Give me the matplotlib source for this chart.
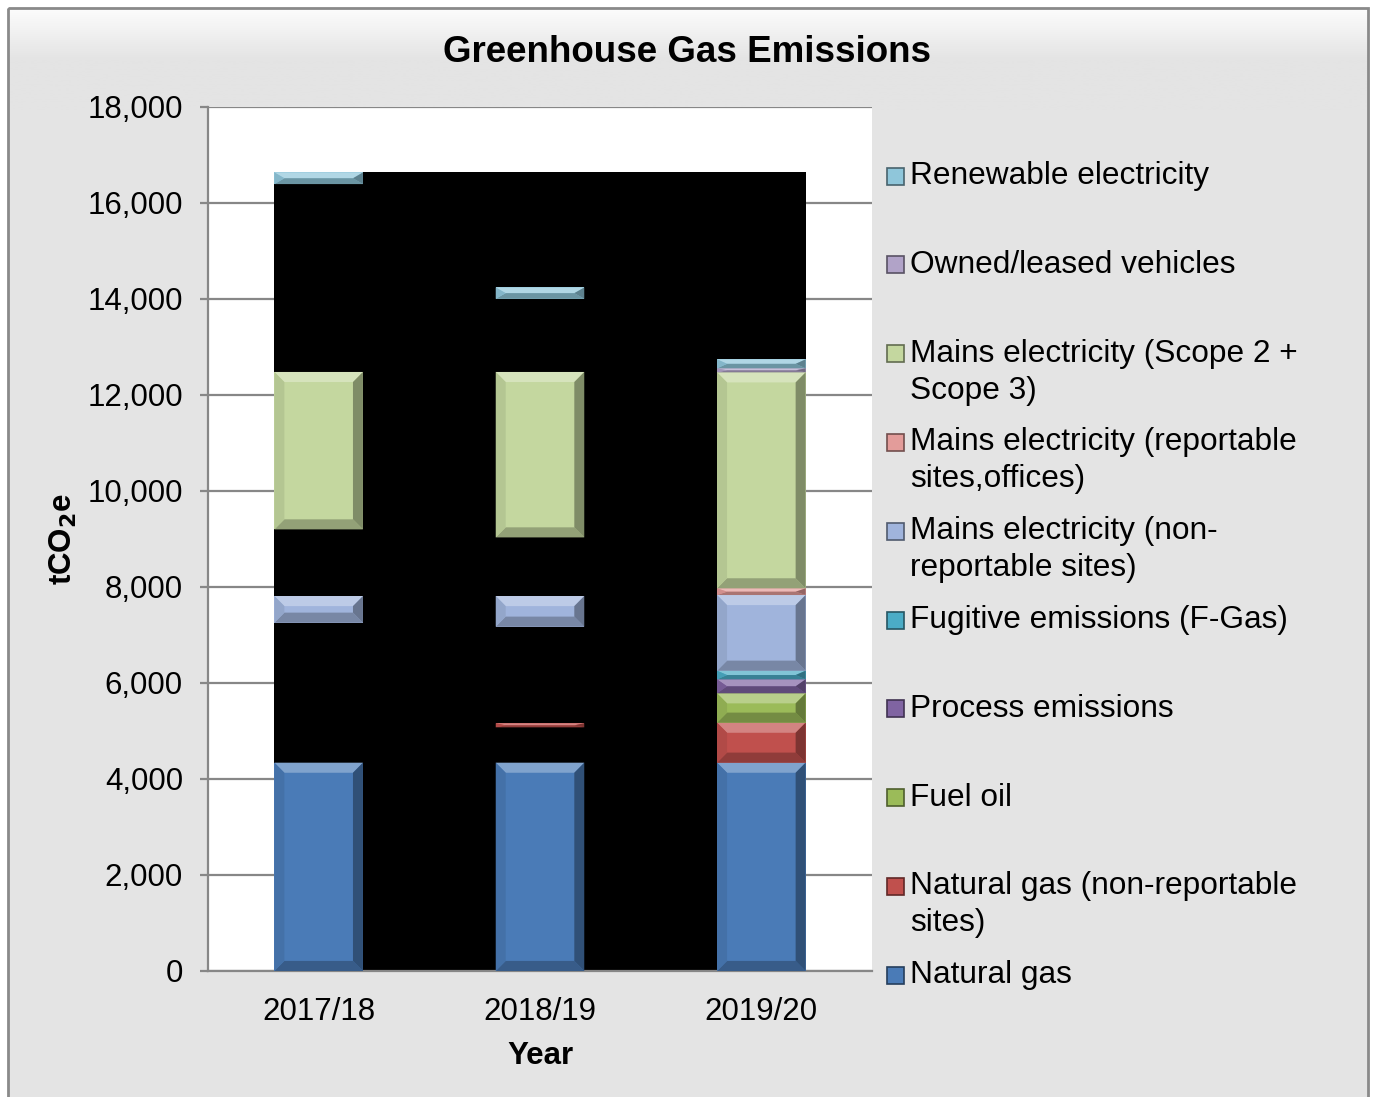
import numpy as np
import matplotlib.pyplot as plt
from matplotlib.patches import Polygon, Rectangle
from matplotlib.colors import to_rgb

plt.rcParams['font.family'] = ['Liberation Sans', 'DejaVu Sans']

# Данные (тCO2e) по годам
years = ['2017/18', '2018/19', '2019/20']
natural_gas = [4340, 4340, 4340]
hidden_a = [2916, 736, 0]
natural_gas_nonrep = [0, 84, 833]
fuel_oil = [0, 0, 612]
process = [0, 0, 291]
fugitive = [0, 0, 180]
hidden_b = [0, 2013, 0]
mains_nonrep = [556, 639, 1577]
mains_rep = [0, 0, 139]
hidden_c = [1388, 1221, 0]
mains_scope = [3280, 3447, 4500]
owned_vehicles = [0, 0, 84]
hidden_d = [3914, 1524, 0]
renewable = [243, 236, 187]

# Порядок стека снизу вверх: (значения, цвет, подпись легенды)
stack = [
    (natural_gas, '#4a7bb7', 'Natural gas'),
    (hidden_a, 'black', None),
    (natural_gas_nonrep, '#c0504d', 'Natural gas (non-reportable\nsites)'),
    (fuel_oil, '#9bbb59', 'Fuel oil'),
    (process, '#8064a2', 'Process emissions'),
    (fugitive, '#4bacc6', 'Fugitive emissions (F-Gas)'),
    (hidden_b, 'black', None),
    (mains_nonrep, '#a0b4dc', 'Mains electricity (non-\nreportable sites)'),
    (mains_rep, '#e39c9a', 'Mains electricity (reportable\nsites,offices)'),
    (hidden_c, 'black', None),
    (mains_scope, '#c4d79f', 'Mains electricity (Scope 2 +\nScope 3)'),
    (owned_vehicles, '#b1a3c8', 'Owned/leased vehicles'),
    (hidden_d, 'black', None),
    (renewable, '#8fc6da', 'Renewable electricity'),
]

W, H = 1373, 1097
fig = plt.figure(figsize=(W / 100, H / 100), dpi=100)
fig.patch.set_facecolor('white')

# Фон рамки диаграммы с лёгким градиентом сверху
bg = fig.add_axes([0, 0, 1, 1], zorder=-5)
bg.set_xlim(0, W)
bg.set_ylim(H, 0)
bg.axis('off')
grad = np.ones((200, 2, 3)) * np.array(to_rgb('#e4e4e4'))
t = np.linspace(0, 1, 200)[:, None]
top = np.clip(1 - t / 0.5, 0, 1)
grad = grad + (1 - grad) * top[:, :, None] * 0.9
bg.imshow(grad, extent=(8, 1368, 110, 8), aspect='auto', zorder=0)
bg.add_patch(Rectangle((8, 110), 1360, H - 110, facecolor='#e4e4e4', edgecolor='none', zorder=0))
bg.add_patch(Rectangle((8, 8), 1360, H + 10, facecolor='none', edgecolor='#8a8a8a', lw=2, zorder=1))

ax = fig.add_axes([208 / W, 1 - 971 / H, 664 / W, 864 / H])
ax.set_facecolor('white')


def mix(c, other, f):
    c = np.array(to_rgb(c))
    return tuple(c + (np.array(other) - c) * f)


def bevel_bar(ax, x, bottom, height, color, width=0.4):
    x0, x1 = x - width / 2, x + width / 2
    y0, y1 = bottom, bottom + height
    dx = 0.045
    dy = min(210, height / 2)
    ax.add_patch(Rectangle((x0, y0), width, height, facecolor=color, edgecolor='none', zorder=3))
    ax.add_patch(Polygon([(x0, y1), (x1, y1), (x1 - dx, y1 - dy), (x0 + dx, y1 - dy)],
                         facecolor=mix(color, (1, 1, 1), 0.3), edgecolor='none', zorder=4))
    ax.add_patch(Polygon([(x0, y0), (x1, y0), (x1 - dx, y0 + dy), (x0 + dx, y0 + dy)],
                         facecolor=mix(color, (0, 0, 0), 0.25), edgecolor='none', zorder=4))
    ax.add_patch(Polygon([(x1, y0), (x1, y1), (x1 - dx, y1 - dy), (x1 - dx, y0 + dy)],
                         facecolor=mix(color, (0, 0, 0), 0.35), edgecolor='none', zorder=4))
    ax.add_patch(Polygon([(x0, y0), (x0, y1), (x0 + dx, y1 - dy), (x0 + dx, y0 + dy)],
                         facecolor=mix(color, (0, 0, 0), 0.08), edgecolor='none', zorder=4))


x = np.arange(len(years))
totals = np.sum([vals for vals, _, _ in stack], axis=0)

# Чёрная подложка между столбцами
ax.bar(1, totals.max(), width=x[-1] - x[0] + 0.4, color='black', zorder=2)

bottoms = np.zeros(len(years))
for vals, color, label in stack:
    for i, v in enumerate(vals):
        if v <= 0:
            continue
        if color == 'black':
            ax.bar(x[i], v, bottom=bottoms[i], width=0.4, color='black', zorder=3)
        else:
            bevel_bar(ax, x[i], bottoms[i], v, color)
    bottoms += np.array(vals)

ax.set_xlim(-0.5, 2.5)
ax.set_ylim(0, 18000)
ax.set_yticks(np.arange(0, 18001, 2000))
ax.set_yticklabels([f'{v:,}' for v in range(0, 18001, 2000)])
ax.set_xticks(x)
ax.set_xticklabels(years)
ax.yaxis.grid(True, color='#878787', lw=1.6, zorder=0)
ax.set_axisbelow(True)
for s in ['top', 'right']:
    ax.spines[s].set_visible(False)
for s in ['left', 'bottom']:
    ax.spines[s].set_color('#878787')
    ax.spines[s].set_linewidth(1.6)
ax.tick_params(axis='y', length=6, width=1.6, color='#878787', pad=12, labelsize=22.5)
ax.tick_params(axis='x', length=0, pad=19, labelsize=22.5)
ax.set_xlabel('Year', fontsize=22.5, fontweight='bold', labelpad=10)
ax.set_ylabel(r'tCO$_\mathbf{2}$e', fontsize=22.5, fontweight='bold', labelpad=6)

fig.text(687 / W, 1 - 52 / H, 'Greenhouse Gas Emissions', ha='center', va='center',
         fontsize=26.5, fontweight='bold')

# Легенда (сверху вниз)
legend_items = [(c, l) for _, c, l in stack if l is not None][::-1]
y_first, y_step, line_gap = 176, 88.8, 37
for k, (color, label) in enumerate(legend_items):
    yc = y_first + k * y_step
    sq = 17
    bg.add_patch(Rectangle((887, yc - sq / 2), sq, sq, facecolor=color,
                           edgecolor=mix(color, (0, 0, 0), 0.5), lw=1.2, zorder=3))
    for j, line in enumerate(label.split('\n')):
        fig.text(910 / W, 1 - (yc + j * line_gap) / H, line, ha='left', va='center',
                 fontsize=22.8)

fig.savefig('out.png', dpi=100, facecolor=fig.get_facecolor())
